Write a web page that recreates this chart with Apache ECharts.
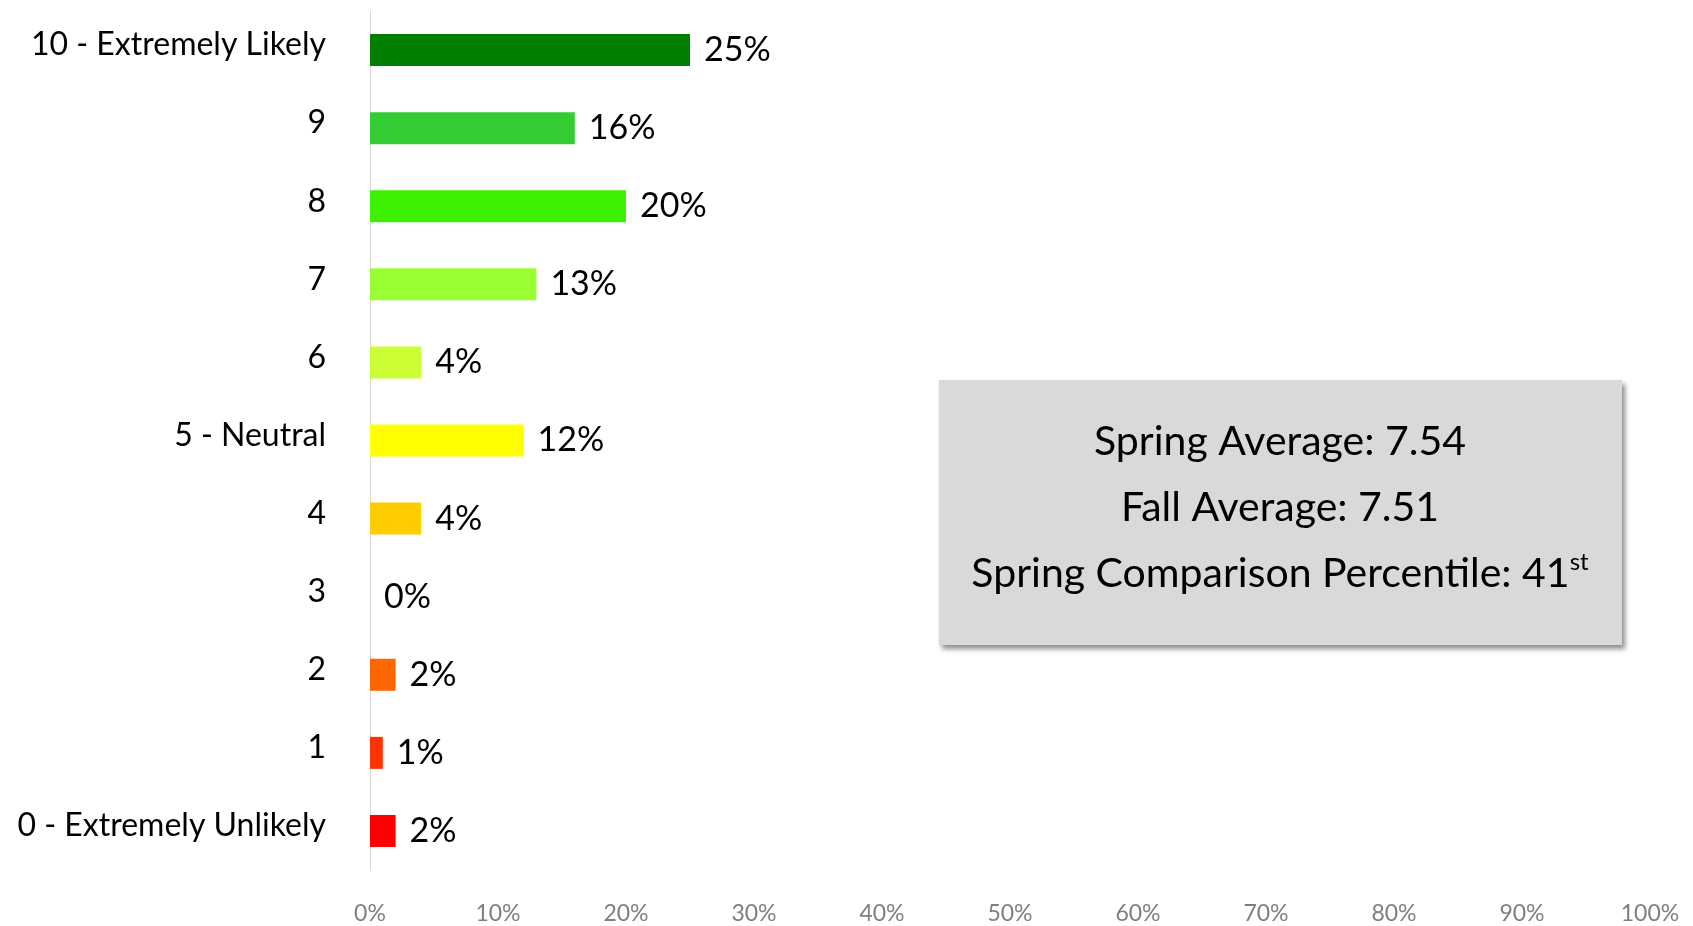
<!DOCTYPE html>
<html>
<head>
<meta charset="utf-8">
<script src="https://cdn.jsdelivr.net/npm/echarts@6/dist/echarts.min.js"></script>
<style>
html, body { margin: 0; padding: 0; background: #fff; }
#main { width: 1693px; height: 926px; }
</style>
</head>
<body>
<div id="main"></div>
<script>
// likelihood scale, bottom to top
var categories = ['0 - Extremely Unlikely', '1', '2', '3', '4', '5 - Neutral', '6', '7', '8', '9', '10 - Extremely Likely'];
var values = [2, 1, 2, 0, 4, 12, 4, 13, 20, 16, 25];
var barColors = ['#ff0000', '#ff3300', '#ff6600', '#ff9900', '#ffcc00', '#ffff00', '#ccff33', '#99ff33', '#3cf000', '#33cc33', '#008000'];
var summaryLines = ['Spring Average: 7.54', 'Fall Average: 7.51'];
var percentileText = 'Spring Comparison Percentile: 41';
var percentileSuffix = 'st';

var font = 'Lato, "Open Sans", sans-serif';
var myChart = echarts.init(document.getElementById('main'));

var option = {
    animation: false,
    grid: { left: 370, right: 43, top: 11, bottom: 56 },
    xAxis: {
        type: 'value',
        min: 0,
        max: 100,
        interval: 10,
        splitLine: { show: false },
        axisLine: { show: false },
        axisTick: { show: false },
        axisLabel: {
            formatter: '{value}%',
            color: '#7f7f7f',
            fontSize: 23,
            fontFamily: font,
            margin: 32
        }
    },
    yAxis: {
        type: 'category',
        data: categories,
        axisLine: { show: true, lineStyle: { color: '#d9d9d9', width: 1 } },
        axisTick: { show: false },
        axisLabel: {
            color: '#000',
            fontSize: 32,
            fontFamily: font,
            margin: 44,
            verticalAlign: 'bottom',
            lineHeight: 10
        }
    },
    series: [{
        type: 'bar',
        barWidth: '41%',
        data: values.map(function (v, i) {
            return { value: v, itemStyle: { color: barColors[i] } };
        }),
        label: {
            show: true,
            position: 'right',
            distance: 14,
            formatter: '{c}%',
            color: '#000',
            fontSize: 34,
            fontFamily: font
        }
    }],
    graphic: [{
        type: 'group',
        left: 939,
        top: 380,
        children: [{
            type: 'rect',
            shape: { x: 0, y: 0, width: 683, height: 265 },
            style: {
                fill: '#d9d9d9',
                shadowBlur: 5,
                shadowOffsetX: 3,
                shadowOffsetY: 4,
                shadowColor: 'rgba(0,0,0,0.45)'
            }
        }, {
            type: 'text',
            x: 341,
            y: 62,
            style: {
                text: summaryLines[0],
                fontSize: 41, fontFamily: font, fill: '#000',
                align: 'center', verticalAlign: 'middle'
            }
        }, {
            type: 'text',
            x: 341,
            y: 128,
            style: {
                text: summaryLines[1],
                fontSize: 41, fontFamily: font, fill: '#000',
                align: 'center', verticalAlign: 'middle'
            }
        }, {
            type: 'text',
            x: 341,
            y: 194,
            style: {
                text: '{m|' + percentileText + '}{s|' + percentileSuffix + '}',
                align: 'center', verticalAlign: 'middle',
                rich: {
                    m: { fontSize: 41, fontFamily: font, fill: '#000', lineHeight: 48 },
                    s: { fontSize: 24, fontFamily: font, fill: '#000', lineHeight: 48, verticalAlign: 'top', padding: [0, 0, 14, 0] }
                }
            }
        }]
    }]
};
myChart.setOption(option);
</script>
</body>
</html>
